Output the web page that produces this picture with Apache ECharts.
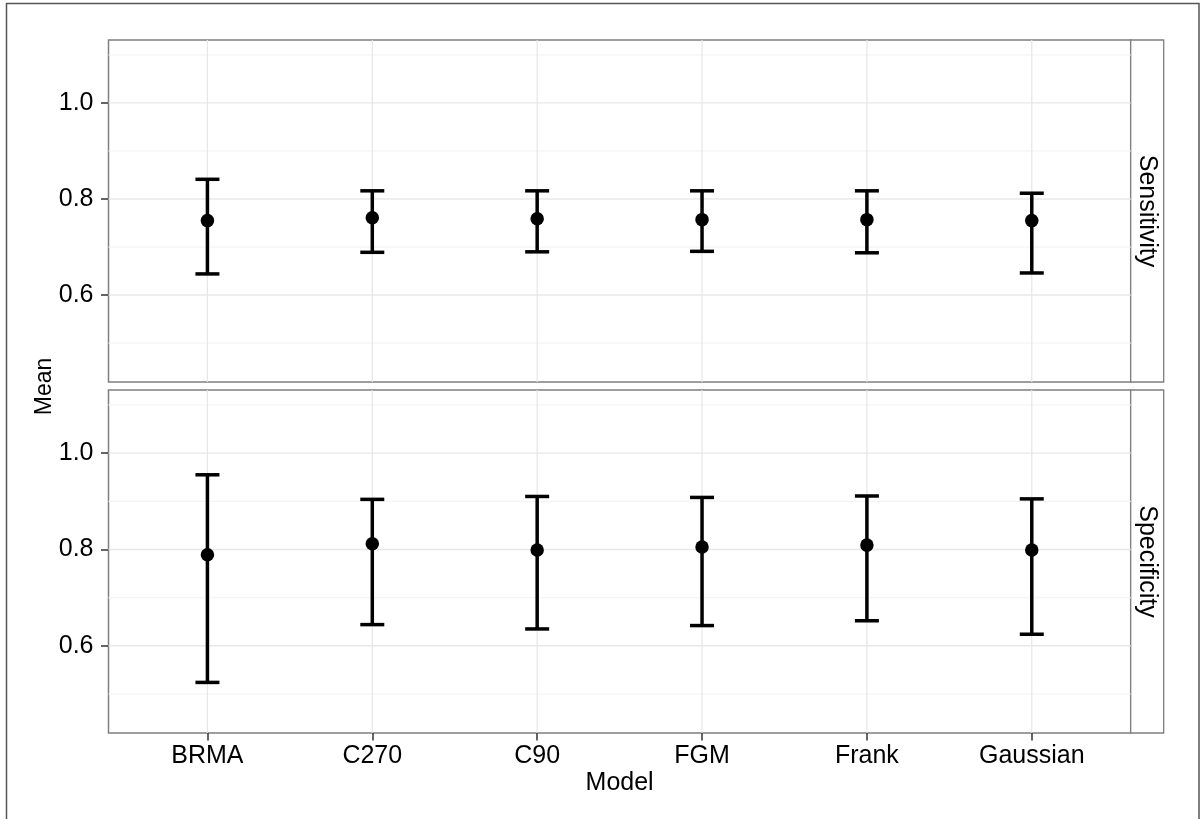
<!DOCTYPE html>
<html>
<head>
<meta charset="utf-8">
<script src="https://cdn.jsdelivr.net/npm/echarts@6/dist/echarts.min.js"></script>
<style>
html,body{margin:0;padding:0;background:#fff;}
#chart{width:1201px;height:819px;}
</style>
</head>
<body>
<div id="chart"></div>
<script>
const models = ['BRMA', 'C270', 'C90', 'FGM', 'Frank', 'Gaussian'];
const facets = ['Sensitivity', 'Specificity'];
const sensMean = [0.755, 0.761, 0.759, 0.757, 0.757, 0.755];
const sensLow  = [0.644, 0.689, 0.690, 0.691, 0.688, 0.646];
const sensHigh = [0.841, 0.817, 0.817, 0.817, 0.817, 0.812];
const specMean = [0.789, 0.812, 0.799, 0.805, 0.809, 0.799];
const specLow  = [0.524, 0.644, 0.635, 0.642, 0.652, 0.624];
const specHigh = [0.955, 0.904, 0.910, 0.908, 0.911, 0.905];
const yMajor = [0.6, 0.8, 1.0];
const yMinor = [0.5, 0.7, 0.9, 1.1];
const yMin = 0.419, yMax = 1.131;
const xMin = -0.6, xMax = 5.6;

const FONT = 'Liberation Sans, Arial, Helvetica, sans-serif';
const chart = echarts.init(document.getElementById('chart'), null, {renderer: 'canvas'});

const gridL = 108.5, gridW = 1022.2;
const grids = [
  {left: gridL, top: 40, width: gridW, height: 342},
  {left: gridL, top: 390, width: gridW, height: 343}
];
const idx = models.map((m, i) => i);

function hLineSeries(g, vals, color, w) {
  return {
    type: 'custom', xAxisIndex: g, yAxisIndex: g, z: 1, silent: true,
    data: vals.map(v => [0, v]),
    renderItem: function (params, api) {
      const cs = params.coordSys;
      const y = api.coord([0, api.value(1)])[1];
      return {type: 'line', shape: {x1: cs.x, y1: y, x2: cs.x + cs.width, y2: y},
        style: {stroke: color, lineWidth: w}};
    }
  };
}
function vLineSeries(g) {
  return {
    type: 'custom', xAxisIndex: g, yAxisIndex: g, z: 1, silent: true,
    data: idx.map(i => [i, 0.8]),
    renderItem: function (params, api) {
      const cs = params.coordSys;
      const x = api.coord([api.value(0), 0.8])[0];
      return {type: 'line', shape: {x1: x, y1: cs.y, x2: x, y2: cs.y + cs.height},
        style: {stroke: '#e6e6e6', lineWidth: 1.2}};
    }
  };
}
function errSeries(g, low, high) {
  return {
    type: 'custom', xAxisIndex: g, yAxisIndex: g, z: 3, silent: true,
    data: idx.map(i => [i, low[i], high[i]]),
    encode: {x: 0, y: [1, 2]},
    renderItem: function (params, api) {
      const p1 = api.coord([api.value(0), api.value(1)]);
      const p2 = api.coord([api.value(0), api.value(2)]);
      const hw = 12;
      const st = {stroke: '#000', lineWidth: 3.5};
      return {type: 'group', children: [
        {type: 'line', shape: {x1: p1[0], y1: p1[1], x2: p2[0], y2: p2[1]}, style: st},
        {type: 'line', shape: {x1: p1[0] - hw, y1: p1[1], x2: p1[0] + hw, y2: p1[1]}, style: st},
        {type: 'line', shape: {x1: p2[0] - hw, y1: p2[1], x2: p2[0] + hw, y2: p2[1]}, style: st}
      ]};
    }
  };
}
function pointSeries(g, mean) {
  return {
    type: 'scatter', xAxisIndex: g, yAxisIndex: g, z: 4, silent: true,
    symbol: 'circle', symbolSize: 13.5,
    itemStyle: {color: '#000', opacity: 1},
    data: idx.map(i => [i, mean[i]])
  };
}

const xAxes = [0, 1].map(g => ({
  type: 'value', gridIndex: g, min: xMin, max: xMax, position: 'bottom',
  axisLine: {show: false, onZero: false},
  splitLine: {show: false},
  axisTick: g === 1 ? {show: true, customValues: idx, length: 7.5, inside: false,
    lineStyle: {color: '#333', width: 1.5}} : {show: false},
  axisLabel: g === 1 ? {show: true, customValues: idx, margin: 11,
    formatter: v => models[Math.round(v)], color: '#000', fontSize: 25, fontFamily: FONT} : {show: false}
}));
const yAxes = [0, 1].map(g => ({
  type: 'value', gridIndex: g, min: yMin, max: yMax, position: 'left',
  axisLine: {show: false, onZero: false},
  splitLine: {show: false},
  axisTick: {show: true, customValues: yMajor, length: 7.5, inside: false,
    lineStyle: {color: '#333', width: 1.5}},
  axisLabel: {show: true, customValues: yMajor, margin: 15,
    formatter: v => v.toFixed(1), color: '#000', fontSize: 25, fontFamily: FONT}
}));

const series = [];
[[sensMean, sensLow, sensHigh], [specMean, specLow, specHigh]].forEach((d, g) => {
  series.push(hLineSeries(g, yMinor, '#f4f4f4', 1.2));
  series.push(hLineSeries(g, yMajor, '#e8e8e8', 1.4));
  series.push(vLineSeries(g));
  series.push(errSeries(g, d[1], d[2]));
  series.push(pointSeries(g, d[0]));
});

const stripX = gridL + gridW, stripW = 33;
const graphics = [
  {type: 'rect', shape: {x: 6.5, y: 3.5, width: 1192.5, height: 840}, style: {fill: 'none', stroke: '#555', lineWidth: 1.5}, silent: true}
];
grids.forEach((gr, g) => {
  graphics.push({type: 'rect', shape: {x: stripX, y: gr.top, width: stripW, height: gr.height},
    style: {fill: '#fff', stroke: '#7f7f7f', lineWidth: 1.3}, silent: true});
  graphics.push({type: 'text', x: stripX + stripW / 2, y: gr.top + gr.height / 2, rotation: -Math.PI / 2,
    style: {text: facets[g], fill: '#000', font: '25px ' + FONT, align: 'center', verticalAlign: 'middle'}, silent: true});
});
graphics.push({type: 'text', x: 45, y: (grids[0].top + grids[1].top + grids[1].height) / 2, rotation: Math.PI / 2,
  style: {text: 'Mean', fill: '#000', font: '23px ' + FONT, align: 'center', verticalAlign: 'middle'}, silent: true});
graphics.push({type: 'text', x: gridL + gridW / 2, y: 783,
  style: {text: 'Model', fill: '#000', font: '25px ' + FONT, align: 'center', verticalAlign: 'middle'}, silent: true});

chart.setOption({
  backgroundColor: '#fff',
  animation: false,
  grid: grids.map(gr => Object.assign({show: true, borderColor: '#7f7f7f', borderWidth: 1.5, backgroundColor: '#fff', containLabel: false}, gr)),
  xAxis: xAxes,
  yAxis: yAxes,
  series: series,
  graphic: graphics
});
</script>
</body>
</html>
